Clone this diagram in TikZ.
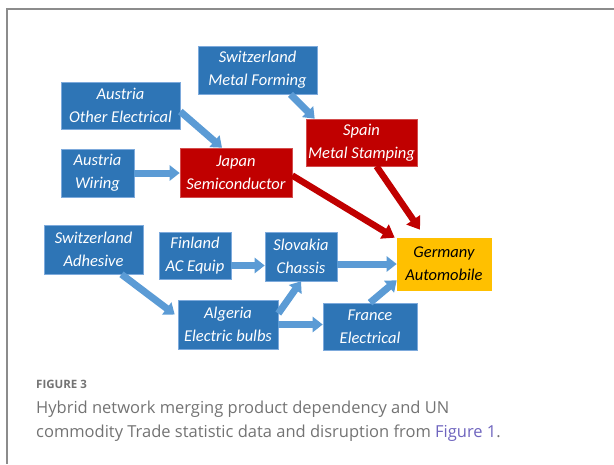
\documentclass[tikz,border=0pt]{standalone}
\usepackage{fontspec}
\setmainfont{Open Sans}
\newfontfamily\boxfont{Carlito}[ItalicFont={Carlito Italic}]
\usetikzlibrary{arrows.meta}

\definecolor{boxblue}{RGB}{46,117,182}
\definecolor{boxedge}{RGB}{125,170,220}
\definecolor{boxred}{RGB}{192,0,0}
\definecolor{boxgold}{RGB}{255,192,0}
\definecolor{arrowblue}{RGB}{91,155,213}
\definecolor{capgray}{RGB}{115,115,115}
\definecolor{linkpurple}{RGB}{110,100,190}
\definecolor{framegray}{RGB}{140,140,140}

\begin{document}
\begin{tikzpicture}[x=1pt,y=-1pt,
  box/.style={draw=boxedge,line width=0.6pt,fill=boxblue,text=white,align=center,inner sep=0pt,
    font=\boxfont\itshape\fontsize{16.5}{23}\selectfont},
  hot/.style={box,fill=boxred,draw=boxred!70!white},
  goal/.style={box,fill=boxgold,draw=boxgold,text=black},
  flow/.style={arrowblue,line width=7pt,-{Triangle[length=10pt,width=15pt]}},
  crit/.style={boxred,line width=6.5pt,-{Triangle[length=12pt,width=16pt]}}]
\useasboundingbox (0,0) rectangle (614,464);
\draw[framegray,line width=1.2pt] (614,9)--(7,9)--(7,464);

\node[box,minimum width=119pt,minimum height=48pt] (swmf) at (257.5,70) {Switzerland\\Metal Forming};
\node[box,minimum width=119pt,minimum height=47pt] (auoe) at (120.5,105.5) {Austria\\Other Electrical};
\node[box,minimum width=73pt,minimum height=48pt] (auwi) at (97.5,173) {Austria\\Wiring};
\node[hot,minimum width=112pt,minimum height=49pt] (japan) at (236,172.5) {Japan\\Semiconductor};
\node[hot,minimum width=111pt,minimum height=47pt] (spain) at (361.5,142.5) {Spain\\Metal Stamping};
\node[box,minimum width=99pt,minimum height=49pt] (swad) at (93.5,249.5) {Switzerland\\Adhesive};
\node[box,minimum width=72pt,minimum height=47pt] (finl) at (195,255.5) {Finland\\AC Equip};
\node[box,minimum width=72pt,minimum height=49pt] (slov) at (301,256.5) {Slovakia\\Chassis};
\node[goal,minimum width=94pt,minimum height=52pt] (germ) at (444,264) {Germany\\Automobile};
\node[box,minimum width=100pt,minimum height=49pt] (alg) at (228,324.5) {Algeria\\Electric bulbs};
\node[box,minimum width=94pt,minimum height=47pt] (fran) at (370,326.5) {France\\Electrical};

% supply links
\draw[flow] ([xshift=33pt]swmf.south) -- ([xshift=9pt]spain.north west);
\draw[flow] ([yshift=-6pt]auoe.east) -- ([xshift=-14pt]japan.north);
\draw[flow] (auwi.east) -- (auwi.east -| japan.west);
\draw[flow] ([xshift=28pt]swad.south) -- ([xshift=-3pt,yshift=10pt]alg.west);
\draw[flow] ([yshift=-10pt]finl.east) -- ([yshift=-10pt]finl.east -| slov.west);
\draw[flow] (slov.east |- germ.west) -- (germ.west);
\draw[flow] ([yshift=11pt]alg.east) -- (slov.south);
\draw[flow] (alg.east) -- (alg.east -| fran.west);
\draw[flow] (fran.north) -- ([yshift=10pt]germ.south west);
% disrupted links
\draw[crit] ([yshift=-3pt]japan.east) -- ([xshift=-2pt]germ.north west);
\draw[crit] ([xshift=15pt]spain.south) -- ([xshift=-24pt,yshift=8pt]germ.north);

% caption
\node[anchor=base west,inner sep=0pt,text=capgray,font=\bfseries\fontsize{11.5}{14}\selectfont] (figlab) at (36,388) {FIGURE 3};
\node[anchor=base west,inner sep=0pt,text=capgray,font=\fontsize{16.5}{24}\selectfont] (cap1) at (36,413) {Hybrid network merging product dependency and UN};
\node[anchor=base west,inner sep=0pt,text=capgray,font=\fontsize{16.5}{24}\selectfont] (cap2) at (36,437) {commodity Trade statistic data and disruption from \textcolor{linkpurple}{Figure 1}.};
\end{tikzpicture}
\end{document}
